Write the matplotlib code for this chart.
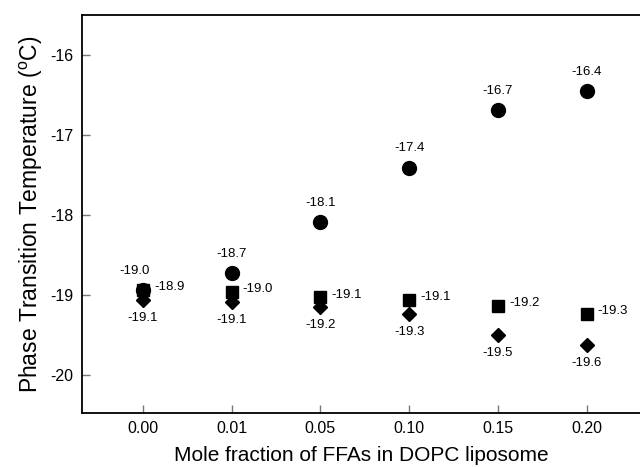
import numpy as np
import matplotlib.pyplot as plt

plt.rcParams['font.family'] = ['Liberation Sans', 'DejaVu Sans']
plt.rcParams['mathtext.default'] = 'regular'

# datos
fracciones = ['0.00', '0.01', '0.05', '0.10', '0.15', '0.20']
circulos = [-18.94, -18.73, -18.09, -17.41, -16.69, -16.45]
circulos_txt = ['-19.0', '-18.7', '-18.1', '-17.4', '-16.7', '-16.4']
cuadrados = [-18.94, -18.96, -19.03, -19.06, -19.14, -19.24]
cuadrados_txt = ['-18.9', '-19.0', '-19.1', '-19.1', '-19.2', '-19.3']
rombos = [-19.06, -19.09, -19.15, -19.24, -19.50, -19.63]
rombos_txt = ['-19.1', '-19.1', '-19.2', '-19.3', '-19.5', '-19.6']

x = np.arange(len(fracciones))

fig = plt.figure(figsize=(6.4, 4.67), dpi=100)
ax = fig.add_axes([0.128, 0.1156, 0.872, 0.8524])

ax.plot(x, circulos, 'o', color='black', markersize=10, linestyle='none')
ax.plot(x, rombos, 'D', color='black', markersize=7.5, linestyle='none')
ax.plot(x, cuadrados, 's', color='black', markersize=8, linestyle='none')

for xi, v, t in zip(x, circulos, circulos_txt):
    dx = -6 if xi == 0 else 0
    ax.annotate(t, (xi, v), xytext=(dx, 14), textcoords='offset points',
                ha='center', va='center', fontsize=9.5)
for xi, v, t in zip(x, cuadrados, cuadrados_txt):
    ax.annotate(t, (xi, v), xytext=(8, 2), textcoords='offset points',
                ha='left', va='center', fontsize=9.5)
for xi, v, t in zip(x, rombos, rombos_txt):
    ax.annotate(t, (xi, v), xytext=(0, -13), textcoords='offset points',
                ha='center', va='center', fontsize=9.5)

ax.set_xlim(-0.688, 5.603)
ax.set_ylim(-20.475, -15.5)
ax.set_xticks(x)
ax.set_xticklabels(fracciones)
ax.set_yticks([-20, -19, -18, -17, -16])
ax.set_yticklabels(['-20', '-19', '-18', '-17', '-16'])

ax.tick_params(direction='in', length=6, width=1, color='#777777',
               labelsize=11.5, pad=6)
ax.spines['right'].set_visible(False)
for s in ['left', 'bottom', 'top']:
    ax.spines[s].set_linewidth(1.3)

ax.set_xlabel('Mole fraction of FFAs in DOPC liposome', fontsize=15, labelpad=7)
ax.set_ylabel('Phase Transition Temperature ($^{o}$C)', fontsize=16.5, labelpad=4)

plt.savefig('out.png', dpi=100)
